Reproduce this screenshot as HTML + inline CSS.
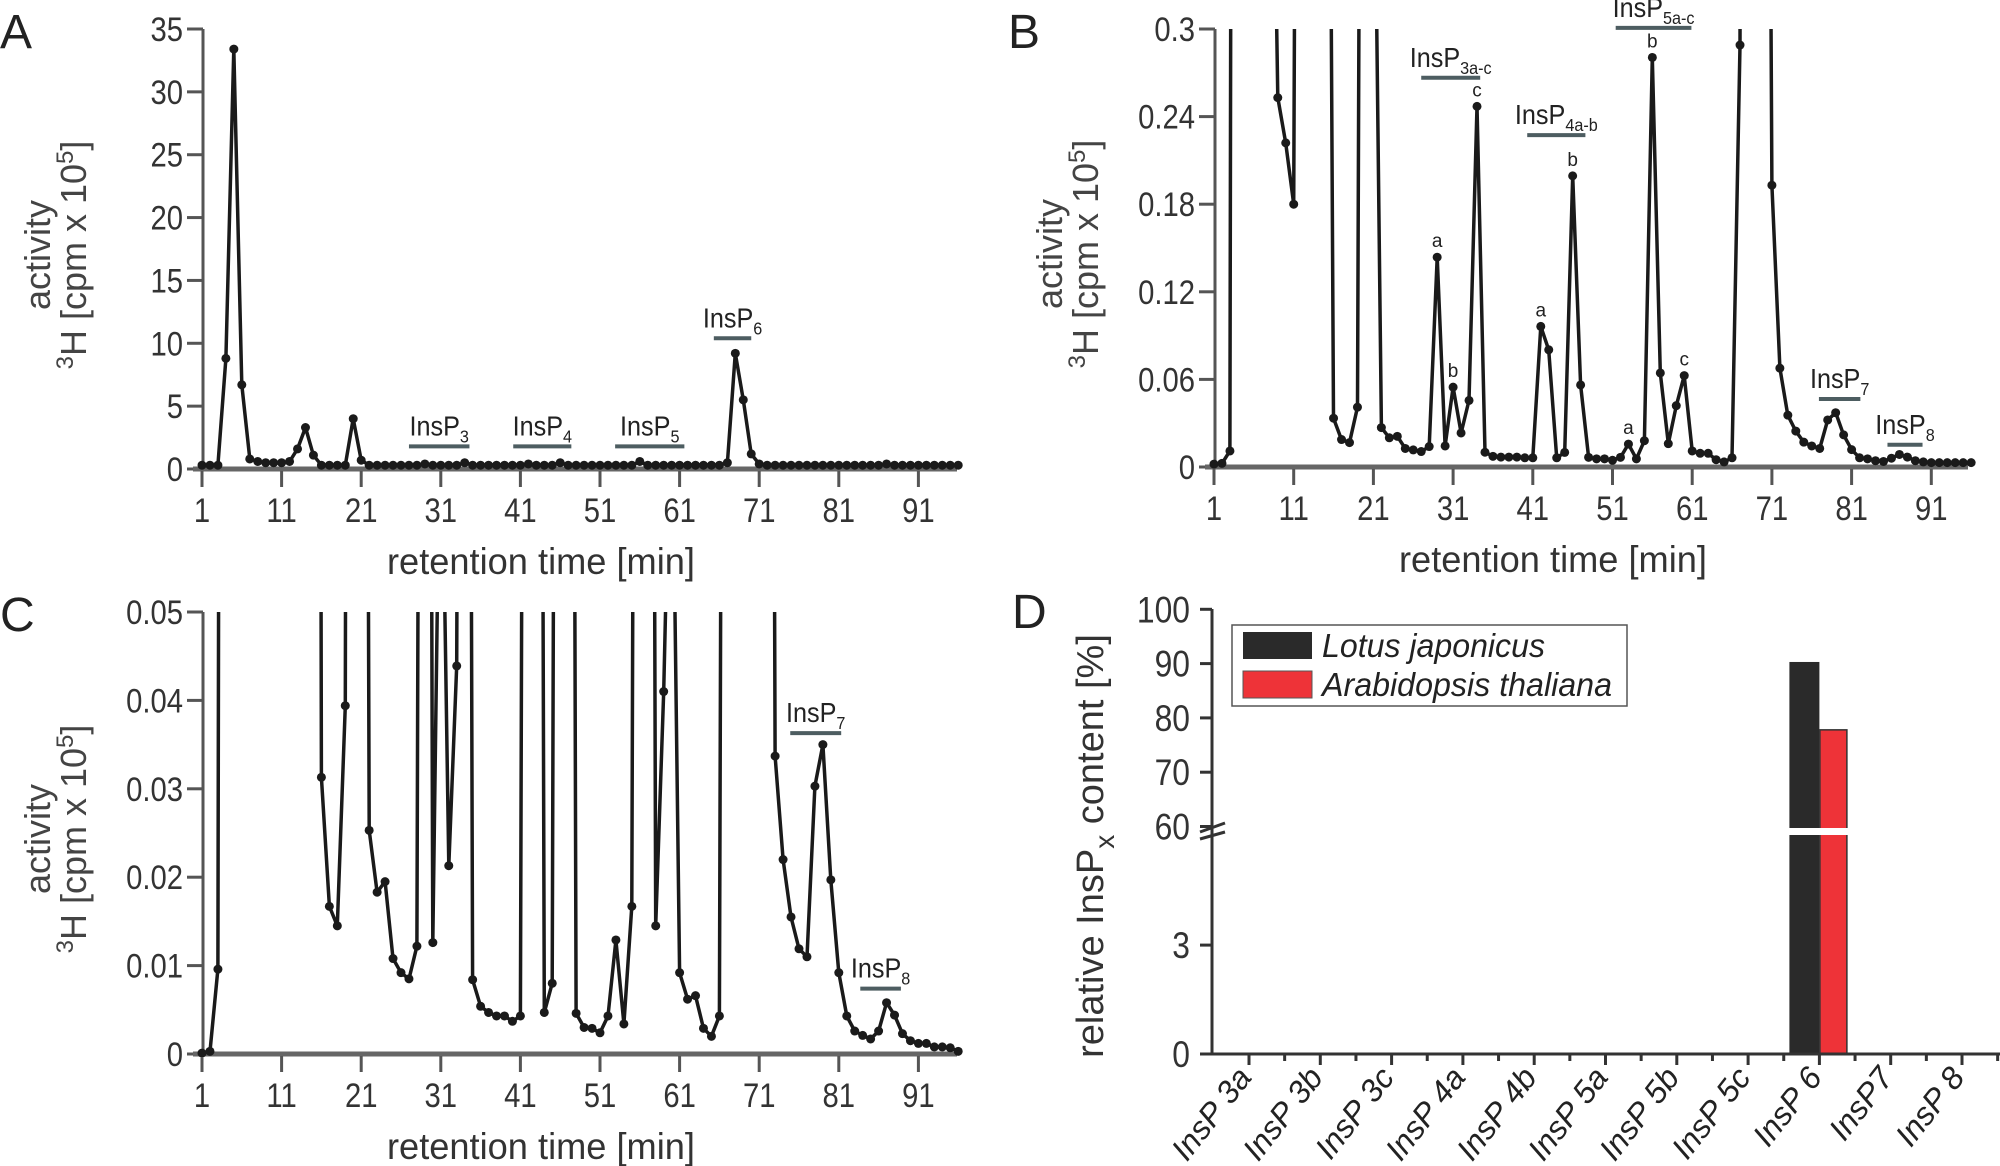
<!DOCTYPE html>
<html>
<head>
<meta charset="utf-8">
<style>
html,body{margin:0;padding:0;background:#fff;}
svg{display:block;font-family:"Liberation Sans",sans-serif;}
</style>
</head>
<body>
<svg id="fig" width="2000" height="1166" viewBox="0 0 2000 1166" xmlns="http://www.w3.org/2000/svg">
  <defs>
    <clipPath id="clipA"><rect x="190" y="24" width="780" height="450"/></clipPath>
    <clipPath id="clipB"><rect x="1202" y="29" width="780" height="445"/></clipPath>
    <clipPath id="clipC"><rect x="190" y="612" width="780" height="445"/></clipPath>
  </defs>
  <text x="0" y="48" font-size="48" fill="#222">A</text>
  <text x="1008" y="48" font-size="48" fill="#222">B</text>
  <text x="0" y="631" font-size="48" fill="#222">C</text>
  <text x="1012" y="628" font-size="48" fill="#222">D</text>
  <g id="layer"></g>
</svg>
<script>
// ---------- data ----------
const retentionTimes = [1,2,3,4,5,6,7,8,9,10,11,12,13,14,15,16,17,18,19,20,21,22,23,24,25,26,27,28,29,30,31,32,33,34,35,36,37,38,39,40,41,42,43,44,45,46,47,48,49,50,51,52,53,54,55,56,57,58,59,60,61,62,63,64,65,66,67,68,69,70,71,72,73,74,75,76,77,78,79,80,81,82,83,84,85,86,87,88,89,90,91,92,93,94,95,96];

const activityA = [0.3,0.3,0.3,8.8,33.4,6.7,0.8,0.6,0.5,0.5,0.5,0.6,1.6,3.3,1.1,0.3,0.3,0.3,0.3,4.0,0.7,0.3,0.3,0.3,0.3,0.3,0.3,0.3,0.4,0.3,0.3,0.3,0.3,0.5,0.3,0.3,0.3,0.3,0.3,0.3,0.3,0.4,0.3,0.3,0.3,0.5,0.3,0.3,0.3,0.3,0.3,0.3,0.3,0.3,0.3,0.6,0.3,0.3,0.3,0.3,0.3,0.3,0.3,0.3,0.3,0.3,0.5,9.2,5.5,1.2,0.4,0.3,0.3,0.3,0.3,0.3,0.3,0.3,0.3,0.3,0.3,0.3,0.3,0.3,0.3,0.3,0.4,0.3,0.3,0.3,0.3,0.3,0.3,0.3,0.3,0.3];

const activityB = [0.002,0.0025,0.011,3,8,3,1,0.6,0.253,0.222,0.180,1.5,2,2,1.0,0.0334,0.0188,0.0167,0.041,1.5,0.5,0.027,0.020,0.021,0.0127,0.0117,0.0106,0.014,0.1437,0.0144,0.0547,0.0233,0.0456,0.247,0.0101,0.0073,0.0068,0.0068,0.0068,0.0063,0.0063,0.0963,0.0803,0.0063,0.010,0.1994,0.0562,0.0066,0.0056,0.0056,0.0046,0.0066,0.0157,0.0056,0.018,0.2805,0.0644,0.016,0.042,0.0626,0.011,0.0094,0.0094,0.005,0.0035,0.0063,0.289,3,2,1.2,0.193,0.0677,0.0355,0.0246,0.017,0.0144,0.0127,0.0322,0.0372,0.022,0.0119,0.0063,0.0056,0.0043,0.0038,0.006,0.0086,0.0068,0.0043,0.0035,0.003,0.003,0.003,0.003,0.003,0.003];

const activityC = [0.0001,0.0003,0.0096,0.5,0.5,0.5,0.5,0.5,0.5,0.5,0.5,0.5,0.5,0.5,0.5,0.0313,0.0167,0.0145,0.0394,0.5,0.3,0.0253,0.0183,0.0195,0.0108,0.0092,0.0085,0.0122,0.3,0.0126,0.08,0.0213,0.0439,0.3,0.0084,0.0054,0.0047,0.0043,0.0043,0.0037,0.0043,0.3,0.3,0.0047,0.008,0.3,0.3,0.0046,0.003,0.0029,0.0024,0.0043,0.0129,0.0034,0.0167,0.3,0.3,0.0145,0.041,0.08,0.0092,0.0062,0.0066,0.0029,0.002,0.0043,0.3,0.3,0.3,0.3,0.3,0.3,0.0337,0.022,0.0155,0.0119,0.011,0.0303,0.035,0.0197,0.0092,0.0043,0.0026,0.0021,0.0017,0.0026,0.0058,0.0044,0.0023,0.0015,0.0012,0.0012,0.0008,0.0008,0.0007,0.0003];

const xTickLabels = [1,11,21,31,41,51,61,71,81,91];
const yTicksA = [0,5,10,15,20,25,30,35];
const yTickLabelsA = ["0","5","10","15","20","25","30","35"];
const yTicksB = [0,0.06,0.12,0.18,0.24,0.3];
const yTickLabelsB = ["0","0.06","0.12","0.18","0.24","0.3"];
const yTicksC = [0,0.01,0.02,0.03,0.04,0.05];
const yTickLabelsC = ["0","0.01","0.02","0.03","0.04","0.05"];

const labelSubsA = ["3","4","5","6"];
const labelStartA = [27, 40.1, 52.9, 65.3];
const labelEndA = [34.6, 47.4, 61.6, 70];
const labelLevelA = [1.8, 1.8, 1.8, 10.4];

const labelSubsB = ["3a-c","4a-b","5a-c","7","8"];
const labelStartB = [27.0, 40.3, 51.4, 76.9, 85.5];
const labelEndB = [34.4, 47.6, 60.9, 82.1, 89.9];
const labelLevelB = [0.2666, 0.2273, 0.3008, 0.0466, 0.0152];

const peakLettersB = ["a","b","c","a","b","a","b","c"];
const peakTimesB = [29,31,34,42,46,53,56,60];

const labelSubsC = ["7","8"];
const labelStartC = [74.9, 83.7];
const labelEndC = [81.3, 88.8];
const labelLevelC = [0.0363, 0.0074];

const barCategories = ["InsP 3a","InsP 3b","InsP 3c","InsP 4a","InsP 4b","InsP 5a","InsP 5b","InsP 5c","InsP 6","InsP7","InsP 8"];
const lotusValues = [0,0,0,0,0,0,0,0,90.3,0,0];
const arabidopsisValues = [0,0,0,0,0,0,0,0,77.8,0,0];
const dUpperTicks = [60,70,80,90,100];
const dLowerTicks = [0,3];

// ---------- helpers ----------
const NS = "http://www.w3.org/2000/svg";
const layer = document.getElementById('layer');
const SX = 0.86;
function mk(tag, attrs, parent){
  const e = document.createElementNS(NS, tag);
  for (const k in attrs) e.setAttribute(k, attrs[k]);
  (parent||layer).appendChild(e);
  return e;
}
function narrowText(x, y, size, anchor, parent){
  return mk('text', {x:0, y:0, 'font-size':size, 'text-anchor':anchor, fill:'#333', transform:`translate(${x},${y}) scale(${SX},1)`}, parent);
}
function linePanel(cfg){
  const g = mk('g', {});
  
  
  const xs = m => cfg.x0 + (m - 1) * cfg.pxPerMin;
  const ys = v => cfg.y0 - v / cfg.yMax * (cfg.y0 - cfg.yTop);
  const ya = mk('line', {x1:cfg.axisX, y1:cfg.yTop, x2:cfg.axisX, y2:cfg.y0+2, stroke:'#555', 'stroke-width':3}, g);
  
  
  cfg.yTicks.forEach((t,i)=>{
    const y = ys(t);
    const tk = mk('line', {x1:cfg.axisX-16, y1:y, x2:cfg.axisX, y2:y, stroke:'#555', 'stroke-width':3}, g);
    
    
    const tx = narrowText(cfg.axisX-20, y+12, 34, 'end', g);
    
    
    tx.textContent = cfg.yLabels[i];
  });
  const xa = mk('line', {x1:cfg.axisX-10, y1:cfg.y0, x2:cfg.xEnd, y2:cfg.y0, stroke:'#666', 'stroke-width':5}, g);
  
  
  xTickLabels.forEach(t=>{
    const x = xs(t);
    const tk = mk('line', {x1:x, y1:cfg.y0+2, x2:x, y2:cfg.y0+18, stroke:'#555', 'stroke-width':3}, g);
    
    
    const tx = narrowText(x, cfg.y0+53, 34, 'middle', g);
    
    
    tx.textContent = String(t);
  });
  const xt = mk('text', {x:cfg.axisX+338, y:cfg.y0+105, 'font-size':37, fill:'#333', 'text-anchor':'middle', textLength:308, lengthAdjust:'spacingAndGlyphs'}, g);
  
  
  xt.textContent = 'retention time [min]';
  const cy = (cfg.yTop + cfg.y0)/2 + 6;
  const t1 = mk('text', {x:0, y:0, 'font-size':36, fill:'#444', 'text-anchor':'middle', transform:`translate(${cfg.axisX-153},${cy}) rotate(-90)`}, g);
  
  
  t1.textContent = 'activity';
  const t2 = mk('text', {x:0, y:0, 'font-size':36, fill:'#444', 'text-anchor':'middle', transform:`translate(${cfg.axisX-117},${cy}) rotate(-90)`}, g);
  
  
  t2.innerHTML = '<tspan font-size="24" dy="-13">3</tspan><tspan dy="13">H [cpm x 10</tspan><tspan font-size="24" dy="-13">5</tspan><tspan dy="13">]</tspan>';
  const sg = mk('g', {'clip-path':`url(#${cfg.clip})`}, g);
  
  
  const pts = retentionTimes.map((m,i)=>xs(m).toFixed(1)+','+ys(cfg.values[i]).toFixed(1)).join(' ');
  const pl = mk('polyline', {points:pts, fill:'none', stroke:'#1a1a1a', 'stroke-width':3.5, 'stroke-linejoin':'round'}, sg);
  
  
  retentionTimes.forEach((m,i)=>{
    if (cfg.values[i] > cfg.yMax) return;
    const c = mk('circle', {cx:xs(m), cy:ys(cfg.values[i]), r:4.5, fill:'#1a1a1a'}, sg);
    
    
  });
  cfg.labSubs.forEach((s,i)=>{
    const x1 = xs(cfg.labStart[i]), x2 = xs(cfg.labEnd[i]), y = ys(cfg.labLevel[i]);
    const b = mk('line', {x1:x1, y1:y, x2:x2, y2:y, stroke:'#4d5d61', 'stroke-width':4}, g);
    
    
    const t = mk('text', {x:0, y:0, 'font-size':28, fill:'#222', 'text-anchor':'middle', transform:`translate(${(x1+x2)/2},${y-11}) scale(0.9,1)`}, g);
    
    
    t.innerHTML = 'InsP<tspan font-size="18" dy="7">' + s + '</tspan>';
  });
  return {xs, ys, g};
}

linePanel({name:'panel-a', x0:202, pxPerMin:7.96, axisX:203, y0:469, yTop:29, yMax:35, xEnd:957,
  yTicks:yTicksA, yLabels:yTickLabelsA, values:activityA, clip:'clipA',
  labSubs:labelSubsA, labStart:labelStartA, labEnd:labelEndA, labLevel:labelLevelA});

const pB = linePanel({name:'panel-b', x0:1214, pxPerMin:7.97, axisX:1215, y0:467, yTop:29, yMax:0.3, xEnd:1968,
  yTicks:yTicksB, yLabels:yTickLabelsB, values:activityB, clip:'clipB',
  labSubs:labelSubsB, labStart:labelStartB, labEnd:labelEndB, labLevel:labelLevelB});
peakLettersB.forEach((l,i)=>{
  const m = peakTimesB[i];
  const v = activityB[retentionTimes.indexOf(m)];
  const t = mk('text', {x:pB.xs(m), y:pB.ys(v)-10, 'font-size':19, fill:'#222', 'text-anchor':'middle'}, pB.g);
  
  
  t.textContent = l;
});

linePanel({name:'panel-c', x0:202, pxPerMin:7.96, axisX:203, y0:1054, yTop:612, yMax:0.05, xEnd:957,
  yTicks:yTicksC, yLabels:yTickLabelsC, values:activityC, clip:'clipC',
  labSubs:labelSubsC, labStart:labelStartC, labEnd:labelEndC, labLevel:labelLevelC});

// ---------- panel D ----------
(function(){
  const g = mk('g', {});
  
  
  const ax = 1212, y0 = 1054;
  const upY = v => 826.5 - (v - 60) * 5.43;
  const loY = v => y0 - v * 36.3;
  const valY = v => v >= 60 ? upY(v) : loY(v);
  const cx = i => 1249 + i * 71.3;
  barCategories.forEach((c,i)=>{
    if (lotusValues[i] > 0){
      const r = mk('rect', {x:cx(i)-30, y:valY(lotusValues[i]), width:30, height:y0-valY(lotusValues[i]), fill:'#2a2a2a'}, g);
      
      
    }
    if (arabidopsisValues[i] > 0){
      const r = mk('rect', {x:cx(i)+0.5, y:valY(arabidopsisValues[i]), width:27, height:y0-valY(arabidopsisValues[i]), fill:'#ee3338', stroke:'#333', 'stroke-width':1.5}, g);
      
      
    }
  });
  const gap = mk('rect', {x:1780, y:828, width:80, height:7, fill:'#fff'}, g);
  
  
  const ya = mk('line', {x1:ax, y1:609, x2:ax, y2:y0, stroke:'#333', 'stroke-width':3}, g);
  
  
  const br = mk('path', {d:'M1200 832 L1225 823 M1200 839 L1225 832', stroke:'#333', 'stroke-width':3, fill:'none'}, g);
  
  
  dUpperTicks.concat(dLowerTicks).forEach(t=>{
    const y = valY(t);
    const tk = mk('line', {x1:ax-12, y1:y, x2:ax, y2:y, stroke:'#333', 'stroke-width':3}, g);
    
    
    const tx = narrowText(1190, y+13, 37, 'end', g);
    
    
    tx.textContent = String(t);
  });
  const xa = mk('line', {x1:ax, y1:y0, x2:2000, y2:y0, stroke:'#333', 'stroke-width':3}, g);
  
  
  barCategories.forEach((c,i)=>{
    const x = cx(i);
    const tk = mk('line', {x1:x, y1:y0, x2:x, y2:y0+11, stroke:'#333', 'stroke-width':3}, g);
    
    
    const mt = mk('line', {x1:x+35.65, y1:y0, x2:x+35.65, y2:y0+7, stroke:'#333', 'stroke-width':3}, g);
    
    
    const tx = mk('text', {x:0, y:0, 'font-size':32, 'font-style':'italic', 'text-anchor':'end', fill:'#222', transform:`translate(${x+4},${y0+24}) rotate(-52)`}, g);
    
    
    tx.textContent = c;
  });
  const yt = mk('text', {x:0, y:0, 'font-size':38, fill:'#333', 'text-anchor':'middle', transform:'translate(1103,846) rotate(-90)'}, g);
  
  
  yt.innerHTML = 'relative InsP<tspan font-size="28" dy="11">x</tspan><tspan dy="-11"> content [%]</tspan>';
  const lg = mk('g', {}, g);
  
  
  mk('rect', {x:1232, y:625, width:395, height:81, fill:'#fff', stroke:'#555', 'stroke-width':1.5}, lg);
  const s1 = mk('rect', {x:1243, y:632, width:69, height:27, fill:'#2a2a2a'}, lg);
  
  
  const s2 = mk('rect', {x:1243, y:671, width:69, height:27, fill:'#ee3338', stroke:'#555', 'stroke-width':1}, lg);
  
  
  const l1 = mk('text', {x:1322, y:657, 'font-size':33, 'font-style':'italic', fill:'#222', textLength:223, lengthAdjust:'spacingAndGlyphs'}, lg);
  
  
  l1.textContent = 'Lotus japonicus';
  const l2 = mk('text', {x:1322, y:696, 'font-size':33, 'font-style':'italic', fill:'#222', textLength:290, lengthAdjust:'spacingAndGlyphs'}, lg);
  
  
  l2.textContent = 'Arabidopsis thaliana';
})();
</script>
</body>
</html>
